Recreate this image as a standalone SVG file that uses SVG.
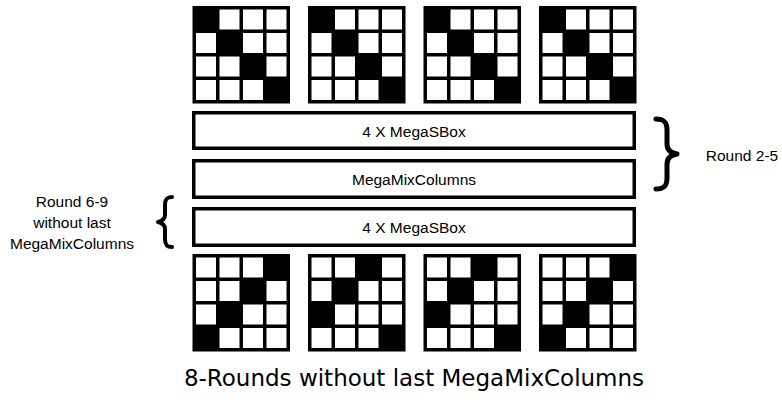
<svg xmlns="http://www.w3.org/2000/svg" width="782" height="403" viewBox="0 0 782 403">
<style>
.bg{fill:#000}
.w{fill:#fff}
.box{fill:#fff;stroke:#000;stroke-width:3.5}
.lbl{font-family:"Liberation Sans",Arial,sans-serif;font-size:15.5px;fill:#000;text-anchor:middle}
.brace{fill:none;stroke:#000;stroke-linecap:round;stroke-linejoin:round}
.title{font-family:"DejaVu Sans",sans-serif;font-size:23px;fill:#000;text-anchor:middle}
</style>
<defs>
<rect id="c" width="20" height="20" class="w"/>
<!-- identity pattern -->
<g id="gid">
<rect width="97.5" height="97.5" class="bg"/>
<use href="#c" x="27" y="3.5"/><use href="#c" x="50.5" y="3.5"/><use href="#c" x="74" y="3.5"/>
<use href="#c" x="3.5" y="27"/><use href="#c" x="50.5" y="27"/><use href="#c" x="74" y="27"/>
<use href="#c" x="3.5" y="50.5"/><use href="#c" x="27" y="50.5"/><use href="#c" x="74" y="50.5"/>
<use href="#c" x="3.5" y="74"/><use href="#c" x="27" y="74"/><use href="#c" x="50.5" y="74"/>
</g>
<!-- anti-diagonal pattern -->
<g id="ganti">
<rect width="97.5" height="97.5" class="bg"/>
<use href="#c" x="3.5" y="3.5"/><use href="#c" x="27" y="3.5"/><use href="#c" x="50.5" y="3.5"/>
<use href="#c" x="3.5" y="27"/><use href="#c" x="27" y="27"/><use href="#c" x="74" y="27"/>
<use href="#c" x="3.5" y="50.5"/><use href="#c" x="50.5" y="50.5"/><use href="#c" x="74" y="50.5"/>
<use href="#c" x="27" y="74"/><use href="#c" x="50.5" y="74"/><use href="#c" x="74" y="74"/>
</g>
<!-- shifted pattern -->
<g id="gshift">
<rect width="97.5" height="97.5" class="bg"/>
<use href="#c" x="3.5" y="3.5"/><use href="#c" x="27" y="3.5"/><use href="#c" x="74" y="3.5"/>
<use href="#c" x="3.5" y="27"/><use href="#c" x="50.5" y="27"/><use href="#c" x="74" y="27"/>
<use href="#c" x="27" y="50.5"/><use href="#c" x="50.5" y="50.5"/><use href="#c" x="74" y="50.5"/>
<use href="#c" x="3.5" y="74"/><use href="#c" x="27" y="74"/><use href="#c" x="50.5" y="74"/>
</g>
</defs>

<g id="top-grids">
<use href="#gid" x="192.5" y="6"/>
<use href="#gid" x="308" y="6"/>
<use href="#gid" x="423.5" y="6"/>
<use href="#gid" x="539" y="6"/>
</g>

<g id="sbox1">
<rect class="box" x="193.75" y="112.75" width="440.5" height="35.5"/>
<text class="lbl" x="414" y="136.5">4 X MegaSBox</text>
</g>
<g id="mixcolumns">
<rect class="box" x="193.75" y="160.75" width="440.5" height="36.5"/>
<text class="lbl" x="414" y="185">MegaMixColumns</text>
</g>
<g id="sbox2">
<rect class="box" x="193.75" y="208.75" width="440.5" height="36.5"/>
<text class="lbl" x="414" y="233">4 X MegaSBox</text>
</g>

<g id="bottom-grids">
<use href="#ganti" x="192.5" y="254"/>
<use href="#gshift" x="308" y="254"/>
<use href="#gshift" x="423.5" y="254"/>
<use href="#ganti" x="539" y="254"/>
</g>

<g id="connectors">
<path class="brace" stroke-width="5" d="M656,119 C664,119 667,122 667,130 L667,144 C667,150 671,153 677,154 C671,155 667,158 667,164 L667,178 C667,186 664,189 656,189"/>
<path class="brace" stroke-width="4" d="M172,197 C167,197 165,199 165,205 L165,215 C165,219 162,221 158,222 C162,223 165,225 165,229 L165,239 C165,245 167,247 172,247"/>
</g>

<g id="label-right">
<text class="lbl" x="742" y="161">Round 2-5</text>
</g>
<g id="label-left">
<text class="lbl" x="72" y="206.5">Round 6-9</text>
<text class="lbl" x="72" y="227.5">without last</text>
<text class="lbl" x="72" y="248.5">MegaMixColumns</text>
</g>

<text class="title" x="414" y="386">8-Rounds without last MegaMixColumns</text>
</svg>
